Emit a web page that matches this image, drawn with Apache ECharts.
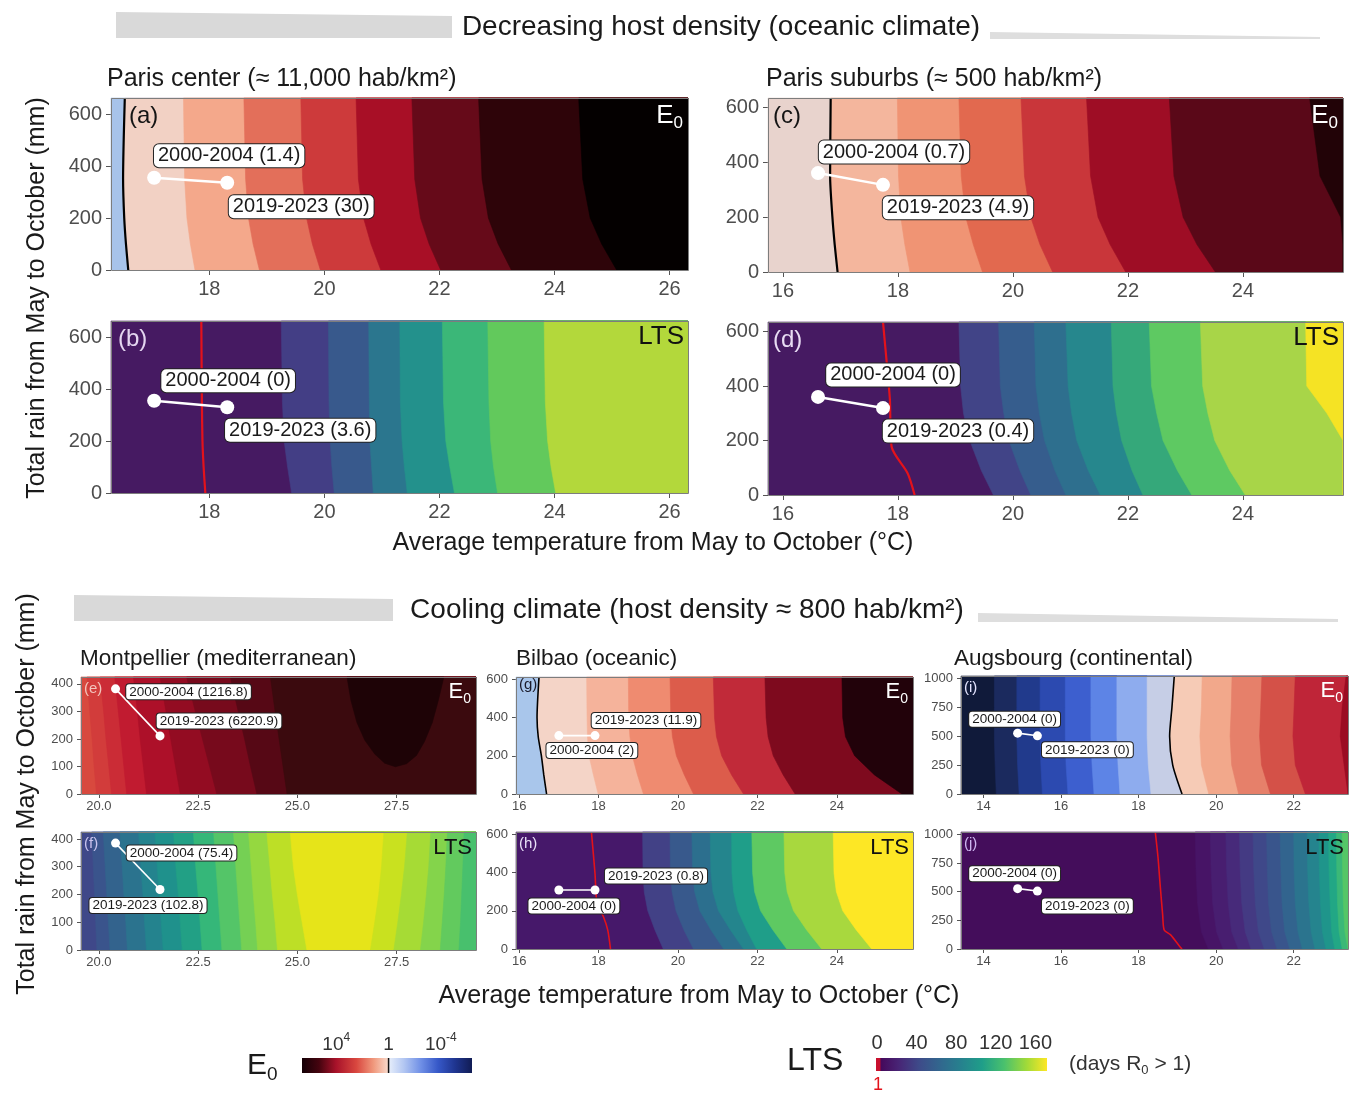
<!DOCTYPE html>
<html><head><meta charset="utf-8">
<script src="https://cdn.jsdelivr.net/npm/echarts@6/dist/echarts.min.js"></script>
<style>html,body{margin:0;padding:0;background:#fff}#c{width:1355px;height:1094px}</style>
</head><body><div id="c"></div>
<script>
// ======================= DATA =======================
const periods = ['2000-2004', '2019-2023'];

// (a) Paris center, E0 : contour boundaries (temperature at each rain level)
const aRain = [0, 100, 200, 350, 662];
const aBounds = [
  [16.59, 16.55, 16.52, 16.50, 16.53],
  [17.75, 17.67, 17.61, 17.57, 17.55],
  [18.87, 18.76, 18.68, 18.63, 18.60],
  [19.93, 19.79, 19.69, 19.62, 19.59],
  [20.98, 20.81, 20.68, 20.59, 20.55],
  [22.02, 21.82, 21.67, 21.57, 21.52],
  [23.25, 23.02, 22.85, 22.74, 22.68],
  [25.08, 24.82, 24.62, 24.49, 24.42]
];
const aPtTemp = [17.04, 18.31], aPtRain = [355, 336], aPtVal = ['1.4', '30'];

// (b) Paris center, LTS
const bRain = [0, 100, 200, 350, 662];
const bBounds = [
  [19.43, 19.36, 19.30, 19.27, 19.25],
  [20.17, 20.13, 20.10, 20.08, 20.07],
  [20.85, 20.82, 20.79, 20.78, 20.77],
  [21.44, 21.39, 21.35, 21.32, 21.31],
  [22.26, 22.18, 22.11, 22.07, 22.05],
  [23.01, 22.94, 22.89, 22.86, 22.84],
  [24.02, 23.94, 23.88, 23.84, 23.82]
];
const bLtsOneTemp = [17.93, 17.90, 17.88, 17.87, 17.86], bLtsOneRain = [0, 100, 200, 350, 662];
const bPtTemp = [17.04, 18.31], bPtRain = [355, 330], bPtVal = ['0', '3.6'];

// (c) Paris suburbs, E0
const cRain = [0, 100, 200, 350, 635];
const cBounds = [
  [16.95, 16.90, 16.86, 16.82, 16.83],
  [18.21, 18.12, 18.05, 18.01, 17.99],
  [19.47, 19.31, 19.18, 19.10, 19.06],
  [20.69, 20.47, 20.31, 20.20, 20.14],
  [21.96, 21.69, 21.48, 21.35, 21.28],
  [23.52, 23.20, 22.96, 22.80, 22.72],
  [26.30, 26.00, 25.70, 25.34, 25.16]
];
const cPtTemp = [16.61, 17.74], cPtRain = [361, 318], cPtVal = ['0.7', '4.9'];

// (d) Paris suburbs, LTS
const dRain = [0, 90, 200, 300, 400, 635];
const dBounds = [
  [19.66, 19.45, 19.25, 19.14, 19.09, 19.06],
  [20.31, 20.12, 19.93, 19.84, 19.78, 19.75],
  [20.92, 20.73, 20.55, 20.46, 20.40, 20.37],
  [21.52, 21.31, 21.11, 21.02, 20.96, 20.92],
  [22.26, 22.07, 21.89, 21.80, 21.74, 21.71],
  [23.11, 22.86, 22.61, 22.50, 22.41, 22.37],
  [24.04, 23.77, 23.51, 23.39, 23.30, 23.26],
  [26.50, 26.20, 25.85, 25.46, 25.11, 25.09]
];
const dLtsOneTemp = [18.29, 18.17, 17.89, 17.86, 17.82, 17.74], dLtsOneRain = [0, 79, 177, 350, 450, 635];
const dPtTemp = [16.61, 17.74], dPtRain = [360, 319], dPtVal = ['0', '0.4'];

// (e) Montpellier, E0
const eRain = [0, 100, 200, 300, 425];
const eBounds = [
  [19.94, 19.88, 19.83, 19.77, 19.70],
  [20.32, 20.25, 20.18, 20.12, 20.03],
  [20.70, 20.63, 20.56, 20.49, 20.40],
  [21.20, 21.12, 21.04, 20.97, 20.87],
  [22.05, 21.93, 21.81, 21.69, 21.54],
  [22.97, 22.79, 22.61, 22.43, 22.21],
  [23.98, 23.82, 23.67, 23.51, 23.31],
  [24.74, 24.64, 24.54, 24.44, 24.32]
];
const eCoreTemp = [26.25, 26.35, 26.50, 26.70, 26.95, 27.20, 27.47, 27.75, 28.00, 28.20, 28.40, 28.55, 28.69];
const eCoreRain = [425, 340, 260, 195, 145, 112, 99, 110, 140, 190, 260, 340, 425];
const ePtTemp = [20.42, 21.54], ePtRain = [382, 211], ePtVal = ['1216.8', '6220.9'];

// (f) Montpellier, LTS
const fRain = [0, 100, 200, 300, 425];
const fBounds = [
  [19.95, 19.92, 19.89, 19.86, 19.82],
  [20.28, 20.24, 20.20, 20.16, 20.11],
  [20.72, 20.68, 20.63, 20.59, 20.53],
  [21.20, 21.15, 21.11, 21.06, 21.00],
  [21.62, 21.57, 21.52, 21.47, 21.41],
  [22.10, 22.05, 22.00, 21.94, 21.88],
  [22.60, 22.55, 22.50, 22.44, 22.38],
  [23.10, 23.05, 23.00, 22.95, 22.89],
  [23.60, 23.55, 23.50, 23.45, 23.39],
  [24.00, 23.95, 23.89, 23.84, 23.77],
  [24.50, 24.44, 24.37, 24.31, 24.23],
  [25.24, 25.12, 25.00, 24.90, 24.82],
  [26.84, 26.95, 27.05, 27.12, 27.18],
  [27.43, 27.53, 27.62, 27.70, 27.77],
  [28.10, 28.18, 28.25, 28.31, 28.36],
  [28.60, 28.65, 28.70, 28.74, 28.78],
  [29.07, 29.11, 29.14, 29.17, 29.20]
];
const fPtTemp = [20.42, 21.54], fPtRain = [385, 218], fPtVal = ['75.4', '102.8'];

// (g) Bilbao, E0
const gRain = [0, 100, 200, 300, 400, 613];
const gBounds = [
  [16.69, 16.62, 16.56, 16.48, 16.45, 16.50],
  [17.99, 17.87, 17.76, 17.72, 17.71, 17.70],
  [19.13, 18.98, 18.85, 18.79, 18.76, 18.75],
  [20.39, 20.16, 19.96, 19.86, 19.82, 19.80],
  [21.65, 21.35, 21.10, 20.97, 20.92, 20.89],
  [22.95, 22.65, 22.40, 22.27, 22.22, 22.19],
  [25.64, 24.95, 24.45, 24.22, 24.15, 24.13]
];
const gPtTemp = [17.00, 17.91], gPtRain = [306, 306], gPtVal = ['2', '11.9'];

// (h) Bilbao, LTS
const hRain = [0, 100, 200, 300, 400, 613];
const hBounds = [
  [19.63, 19.42, 19.24, 19.15, 19.12, 19.11],
  [20.39, 20.15, 19.95, 19.85, 19.81, 19.80],
  [21.15, 20.83, 20.55, 20.42, 20.37, 20.35],
  [21.65, 21.32, 21.02, 20.88, 20.83, 20.81],
  [21.98, 21.73, 21.51, 21.40, 21.36, 21.35],
  [22.74, 22.39, 22.08, 21.93, 21.88, 21.86],
  [23.62, 23.24, 22.91, 22.75, 22.69, 22.67],
  [24.88, 24.49, 24.15, 23.99, 23.93, 23.91]
];
const hLtsOneTemp = [18.30, 18.23, 18.12, 17.96, 17.91, 17.82], hLtsOneRain = [0, 100, 170, 240, 396, 613];
const hPtTemp = [17.00, 17.91], hPtRain = [309, 309], hPtVal = ['0', '0.8'];

// (i) Augsbourg, E0
const iRain = [0, 250, 500, 750, 1020];
const iBounds = [
  [14.33, 14.30, 14.28, 14.28, 14.28],
  [14.92, 14.88, 14.86, 14.86, 14.86],
  [15.52, 15.48, 15.46, 15.46, 15.46],
  [16.18, 16.13, 16.11, 16.11, 16.11],
  [16.85, 16.80, 16.77, 16.77, 16.77],
  [17.52, 17.47, 17.44, 17.44, 17.44],
  [18.32, 18.25, 18.22, 18.22, 18.22],
  [19.12, 18.88, 18.80, 18.86, 18.92],
  [19.81, 19.62, 19.58, 19.62, 19.64],
  [20.58, 20.40, 20.36, 20.39, 20.41],
  [21.40, 21.17, 21.12, 21.15, 21.18],
  [22.30, 22.04, 21.98, 22.01, 22.04],
  [23.80, 23.30, 23.20, 23.25, 23.35]
];
const iPtTemp = [14.88, 15.39], iPtRain = [526, 503], iPtVal = ['0', '0'];

// (j) Augsbourg, LTS
const jRain = [0, 150, 400, 700, 1020];
const jBounds = [
  [19.80, 19.62, 19.52, 19.48, 19.46],
  [20.18, 20.01, 19.91, 19.87, 19.85],
  [20.57, 20.40, 20.31, 20.27, 20.25],
  [20.90, 20.75, 20.66, 20.62, 20.60],
  [21.24, 21.09, 21.01, 20.97, 20.95],
  [21.57, 21.43, 21.35, 21.32, 21.30],
  [21.90, 21.77, 21.70, 21.67, 21.65],
  [22.22, 22.11, 22.04, 22.01, 22.00],
  [22.55, 22.45, 22.39, 22.36, 22.35],
  [22.83, 22.74, 22.69, 22.66, 22.65],
  [23.06, 22.98, 22.94, 22.91, 22.90],
  [23.25, 23.17, 23.13, 23.11, 23.10],
  [23.40, 23.32, 23.28, 23.26, 23.25]
];
const jLtsOneTemp = [19.12, 19.06, 18.82, 18.66, 18.62, 18.56, 18.50, 18.43];
const jLtsOneRain = [0, 22, 125, 166, 300, 540, 800, 1020];
const jPtTemp = [14.88, 15.39], jPtRain = [526, 505], jPtVal = ['0', '0'];

// tick labels
const xTicksA = [18, 20, 22, 24, 26];
const xTicksC = [16, 18, 20, 22, 24];
const xTicksE = [20, 22.5, 25, 27.5];
const xTicksG = [16, 18, 20, 22, 24];
const xTicksI = [14, 16, 18, 20, 22];
const yTicksTop = [0, 200, 400, 600];
const yTicksE = [0, 100, 200, 300, 400];
const yTicksG = [0, 200, 400, 600];
const yTicksI = [0, 250, 500, 750, 1000];
const e0BarTicks = [4, 0, -4];          // log10(E0)
const ltsBarTicks = [0, 40, 80, 120, 160];

// ======================= STYLE =======================
const FONT = "'Liberation Sans', Arial, Helvetica, sans-serif";
const aCol = ['#a7c3ea','#f2d1c4','#f4a88b','#e36f5a','#cd3a3b','#a80f26','#660a19','#2e0409','#040000'];
const bCol = ['#461a62','#433e85','#38598c','#2b768e','#23918c','#3bb778','#62c95c','#b3d83b'];
const cCol = ['#e8d3cd','#f4b69d','#f09474','#e2694f','#c9363a','#9e0d25','#5a0818','#220307'];
const dCol = ['#461a62','#414487','#365d8d','#2e6f8e','#26878d','#35a87a','#5ec962','#a8d548','#f5e324'];
const eCol = ['#d8493e','#d23c3b','#cb2c36','#c11b30','#ad1029','#930c22','#770a1c','#560815','#3b0a0e'];
const eCoreCol = '#1e0306';
const fCol = ['#3f4889','#3a548c','#33638d','#2b738e','#24838e','#1f918c','#22a085','#35b779','#54c568','#75d054','#95d840','#bddf26','#e6e419','#c9e11f','#a6db35','#84d44b','#62ca5e','#48c06d'];
const gCol = ['#a9c6eb','#f4d4c7','#f5b39b','#ef8b70','#dc5c4b','#c12a39','#7e0a1e','#22020a'];
const hCol = ['#46186a','#424186','#38598c','#2c6f8e','#24858d','#1f9e89','#5ec962','#a8d83e','#fde725'];
const iCol = ['#101a3a','#1b2a5e','#213a8c','#2c4ab0','#3d5fcf','#5d84e6','#8eacee','#c6cee6','#f6cbb6','#f2a88b','#e6806a','#d45148','#bf2538','#9b0c22'];
const jCol = ['#440d5b','#471466','#481e70','#472a7a','#443a83','#3f4889','#39558c','#32648e','#2b748e','#25848e','#1f958b','#22a785','#3bb877','#55c667'];
const RED = '#e3121b';

const panels = [
  {box:[111,98,577,172], xr:[16.29,26.32], yr:[0,662], xt:xTicksA, yt:yTicksTop, big:true, rain:aRain, bounds:aBounds, col:aCol,
   line:{t:aBounds[0], r:aRain, c:'#000'}, pt:[aPtTemp,aPtRain,aPtVal], offs:[[75,-22],[74,24]], letter:'(a)', lc:'#141414', lx:18, corner:'E', cc:'#fff'},
  {box:[111,321,577,172], xr:[16.29,26.32], yr:[0,662], xt:xTicksA, yt:yTicksTop, big:true, rain:bRain, bounds:bBounds, col:bCol,
   line:{t:bLtsOneTemp, r:bLtsOneRain, c:RED}, pt:[bPtTemp,bPtRain,bPtVal], offs:[[74,-20],[73,23]], letter:'(b)', lc:'#e4d6f0', lx:7, corner:'LTS', cc:'#111'},
  {box:[768,98,575,174], xr:[15.74,25.74], yr:[0,635], xt:xTicksC, yt:yTicksTop, big:true, rain:cRain, bounds:cBounds, col:cCol,
   line:{t:cBounds[0], r:cRain, c:'#000'}, pt:[cPtTemp,cPtRain,cPtVal], offs:[[76,-21],[75,23]], letter:'(c)', lc:'#141414', corner:'E', cc:'#fff'},
  {box:[768,322,575,173], xr:[15.74,25.74], yr:[0,635], xt:xTicksC, yt:yTicksTop, big:true, rain:dRain, bounds:dBounds, col:dCol,
   line:{t:dLtsOneTemp, r:dLtsOneRain, c:RED}, pt:[dPtTemp,dPtRain,dPtVal], offs:[[75,-22],[75,23]], letter:'(d)', lc:'#e8dcf3', corner:'LTS', cc:'#111'},
  {box:[81,677,395,117], xr:[19.55,29.5], yr:[0,425], xt:xTicksE, yt:yTicksE, big:false, fmt:v=>v.toFixed(1), rain:eRain, bounds:eBounds, col:eCol,
   core:true, pt:[ePtTemp,ePtRain,ePtVal], offs:[[73,3],[59,-15]], letter:'(e)', lc:'#f3c4bc', corner:'E', cc:'#fff'},
  {box:[81,832,395,118], xr:[19.55,29.5], yr:[0,425], xt:xTicksE, yt:yTicksE, big:false, fmt:v=>v.toFixed(1), rain:fRain, bounds:fBounds, col:fCol,
   pt:[fPtTemp,fPtRain,fPtVal], offs:[[66,10],[-12,16]], letter:'(f)', lc:'#c9c4ee', corner:'LTS', cc:'#111'},
  {box:[516,677,397,117], xr:[15.92,25.92], yr:[0,613], xt:xTicksG, yt:yTicksG, big:false, rain:gRain, bounds:gBounds, col:gCol,
   line:{t:gBounds[0], r:gRain, c:'#000'}, pt:[gPtTemp,gPtRain,gPtVal], offs:[[33,15],[51,-15]], letter:'(g)', lc:'#1a1a2a', corner:'E', cc:'#fff', ly:8},
  {box:[516,832,397,117], xr:[15.92,25.92], yr:[0,613], xt:xTicksG, yt:yTicksG, big:false, rain:hRain, bounds:hBounds, col:hCol,
   line:{t:hLtsOneTemp, r:hLtsOneRain, c:RED}, pt:[hPtTemp,hPtRain,hPtVal], offs:[[15,16],[61,-14]], letter:'(h)', lc:'#e8e0f7', corner:'LTS', cc:'#111'},
  {box:[961,676,387,118], xr:[13.42,23.40], yr:[0,1020], xt:xTicksI, yt:yTicksI, big:false, rain:iRain, bounds:iBounds, col:iCol,
   line:{t:iBounds[7], r:iRain, c:'#000'}, pt:[iPtTemp,iPtRain,iPtVal], offs:[[-3,-14],[50,14]], letter:'(i)', lc:'#e4e4ff', corner:'E', cc:'#fff'},
  {box:[961,832,387,117], xr:[13.42,23.40], yr:[0,1020], xt:xTicksI, yt:yTicksI, big:false, rain:jRain, bounds:jBounds, col:jCol,
   line:{t:jLtsOneTemp, r:jLtsOneRain, c:RED}, pt:[jPtTemp,jPtRain,jPtVal], offs:[[-3,-15],[50,15]], letter:'(j)', lc:'#cdb6f0', corner:'LTS', cc:'#111'}
];

function bandRenderer(p) {
  const clampX = v => Math.max(p.xr[0], Math.min(p.xr[1], v));
  return function (params, api) {
    const i = api.value(2);
    const pts = [];
    if (i === 0) {
      pts.push(api.coord([p.xr[0], p.yr[0]]), api.coord([p.xr[0], p.yr[1]]));
    } else {
      const b = p.bounds[i - 1];
      for (let j = 0; j < p.rain.length; j++) pts.push(api.coord([clampX(b[j]), p.rain[j]]));
    }
    pts.push(api.coord([p.xr[1], p.yr[1]]), api.coord([p.xr[1], p.yr[0]]));
    return {type: 'polygon', shape: {points: pts}, style: {fill: p.col[i], stroke: p.col[i], lineWidth: 0.6}};
  };
}

const grids = [], xAxes = [], yAxes = [], series = [], graphics = [];

panels.forEach((p, k) => {
  const [L, T, W, H] = p.box;
  const big = p.big;
  grids.push({left: L, top: T, width: W, height: H});
  const tick = {show: true, length: big ? 5 : 4, lineStyle: {color: '#555', width: 1}};
  xAxes.push({gridIndex: k, type: 'value', min: p.xr[0], max: p.xr[1], axisLine: {show: false}, splitLine: {show: false},
    axisTick: Object.assign({customValues: p.xt}, tick),
    axisLabel: {customValues: p.xt, color: '#4d4d4d', fontSize: big ? 20 : 13, fontFamily: FONT, margin: big ? 9 : 6,
      formatter: p.fmt || (v => String(v))}});
  yAxes.push({gridIndex: k, type: 'value', min: p.yr[0], max: p.yr[1], axisLine: {show: false}, splitLine: {show: false},
    axisTick: Object.assign({customValues: p.yt}, tick),
    axisLabel: {customValues: p.yt, color: '#4d4d4d', fontSize: big ? 20 : 13, fontFamily: FONT, margin: big ? 9 : 8,
      formatter: v => String(v)}});

  series.push({type: 'custom', xAxisIndex: k, yAxisIndex: k, silent: true, z: 1,
    data: p.col.map((c, i) => [p.xr[0], p.yr[0], i]), renderItem: bandRenderer(p)});

  if (p.core) {
    series.push({type: 'custom', xAxisIndex: k, yAxisIndex: k, silent: true, z: 2,
      data: [[eCoreTemp[0], eCoreRain[0]]],
      renderItem: (params, api) => ({type: 'polygon',
        shape: {points: eCoreTemp.map((t, i) => api.coord([t, eCoreRain[i]]))},
        style: {fill: eCoreCol, stroke: eCoreCol, lineWidth: 0.6}})});
  }
  if (p.line) {
    series.push({type: 'line', xAxisIndex: k, yAxisIndex: k, silent: true, z: 3, symbol: 'none', smooth: 0.25,
      data: p.line.t.map((t, i) => [t, p.line.r[i]]),
      lineStyle: {color: p.line.c, width: big ? 2.2 : 1.6}});
  }
  const [pt, pr, pv] = p.pt;
  series.push({type: 'line', xAxisIndex: k, yAxisIndex: k, silent: true, z: 4, symbol: 'none',
    data: pt.map((t, i) => [t, pr[i]]), lineStyle: {color: '#fff', width: big ? 2.5 : 1.6}});
  series.push({type: 'scatter', xAxisIndex: k, yAxisIndex: k, silent: true, z: 5, symbolSize: big ? 14 : 9,
    itemStyle: {color: '#fff', opacity: 1},
    data: pt.map((t, i) => ({value: [t, pr[i]], name: periods[i] + ' (' + pv[i] + ')', label: {offset: p.offs[i]}})),
    label: {show: true, position: 'inside', formatter: '{b}', color: '#1a1a1a', fontFamily: FONT,
      fontSize: big ? 20 : 13.5, lineHeight: big ? 21 : 14, backgroundColor: '#fff', borderColor: '#222', borderWidth: 1,
      borderRadius: big ? 5 : 3, padding: big ? [2, 4, 0, 4] : [1, 3, 0, 3]}});

  // panel border, panel letter, corner label
  graphics.push({type: 'rect', silent: true, z: 100, shape: {x: L + 0.5, y: T + 0.5, width: W, height: H},
    style: {fill: 'transparent', stroke: '#7d7d7d', lineWidth: 1}});
  graphics.push({type: 'text', silent: true, z: 100, x: L + (p.lx || (big ? 5 : 3)), y: T + (p.ly || (big ? 18 : 12)),
    style: {text: p.letter, fill: p.lc, font: (big ? 24 : 15) + 'px ' + FONT, verticalAlign: 'middle', textVerticalAlign: 'middle'}});
  if (p.corner === 'E') {
    const fs = big ? 26 : 22, ss = big ? 17 : 14;
    graphics.push({type: 'text', silent: true, z: 100, x: L + W - 5, y: T + (big ? 18 : 15),
      style: {text: '{e|E}{s|0}', align: 'right', textAlign: 'right', verticalAlign: 'middle', textVerticalAlign: 'middle',
        rich: {e: {fontSize: fs, fontFamily: FONT, fill: p.cc, color: p.cc, lineHeight: fs + 6},
               s: {fontSize: ss, fontFamily: FONT, fill: p.cc, color: p.cc, lineHeight: fs + 6, verticalAlign: 'bottom'}}}});
  } else {
    graphics.push({type: 'text', silent: true, z: 100, x: L + W - 4, y: T + 16,
      style: {text: 'LTS', fill: p.cc, font: (big ? 26 : 22) + 'px ' + FONT, align: 'right', textAlign: 'right', verticalAlign: 'middle', textVerticalAlign: 'middle'}});
  }
});

// ---------- colour bars ----------
const E0_IDX = panels.length, LTS_IDX = panels.length + 1;
grids.push({left: 302, top: 1058, width: 170, height: 15});
grids.push({left: 876, top: 1058, width: 171, height: 16});
xAxes.push({gridIndex: E0_IDX, type: 'value', min: -6.38, max: 6.62, inverse: true, position: 'top', z: 10,
  axisLine: {show: false}, splitLine: {show: false},
  axisTick: {show: true, inside: true, length: 4, customValues: [4, -4], lineStyle: {color: '#fff', width: 1}},
  axisLabel: {customValues: e0BarTicks, margin: 4, color: '#333', fontFamily: FONT,
    formatter: v => v === 0 ? '{b|1}' : '{b|10}{p|' + v + '}',
    rich: {b: {fontSize: 19, fontFamily: FONT, color: '#333', lineHeight: 22, verticalAlign: 'bottom'},
           p: {fontSize: 12, fontFamily: FONT, color: '#333', lineHeight: 22, verticalAlign: 'top'}}}});
yAxes.push({gridIndex: E0_IDX, type: 'value', min: 0, max: 1, show: false});
xAxes.push({gridIndex: LTS_IDX, type: 'value', min: -1, max: 171.8, position: 'top', z: 10,
  axisLine: {show: false}, splitLine: {show: false},
  axisTick: {show: true, inside: true, length: 4, customValues: [40, 80, 120], lineStyle: {color: '#fff', width: 1}},
  axisLabel: {customValues: ltsBarTicks, margin: 5, color: '#333', fontSize: 20, fontFamily: FONT}});
xAxes.push({gridIndex: LTS_IDX, type: 'value', min: -1, max: 171.8, position: 'bottom',
  axisLine: {show: false}, splitLine: {show: false}, axisTick: {show: false},
  axisLabel: {customValues: [1], margin: 5, color: RED, fontSize: 18, fontFamily: FONT}});
yAxes.push({gridIndex: LTS_IDX, type: 'value', min: 0, max: 1, show: false});

const e0Stops = [[0, '#140006'], [0.1, '#45040f'], [0.2, '#a8122a'], [0.32, '#d9473f'], [0.42, '#f0987c'], [0.505, '#f8d8c9'],
  [0.515, '#e4ecfa'], [0.6, '#b2c6f2'], [0.7, '#6f8fe6'], [0.8, '#3658c8'], [0.9, '#1f3590'], [1, '#111c54']];
const ltsStops = [[0, '#440154'], [0.13, '#482475'], [0.25, '#3e4a89'], [0.38, '#31688e'], [0.5, '#26828e'], [0.62, '#1f9e89'],
  [0.75, '#4ac16d'], [0.88, '#a0da39'], [1, '#fde725']];
function barRenderer(lo, hi, stops, solid) {
  return (params, api) => {
    const p0 = api.coord([lo, 0]), p1 = api.coord([hi, 1]);
    const x = Math.min(p0[0], p1[0]), w = Math.abs(p1[0] - p0[0]);
    return {type: 'rect', shape: {x: x, y: p1[1], width: w, height: p0[1] - p1[1]},
      style: {fill: solid || new echarts.graphic.LinearGradient(0, 0, 1, 0, stops.map(s => ({offset: s[0], color: s[1]})))}};
  };
}
series.push({type: 'custom', xAxisIndex: E0_IDX, yAxisIndex: E0_IDX, silent: true, z: 1, data: [[0, 0]],
  renderItem: barRenderer(6.62, -6.38, e0Stops)});
series.push({type: 'line', xAxisIndex: E0_IDX, yAxisIndex: E0_IDX, silent: true, z: 3, symbol: 'none',
  data: [[0, 0], [0, 1]], lineStyle: {color: '#111', width: 1.5}});
series.push({type: 'custom', xAxisIndex: LTS_IDX, yAxisIndex: LTS_IDX, silent: true, z: 1, data: [[0, 0]],
  renderItem: barRenderer(-1, 171.8, ltsStops)});
series.push({type: 'custom', xAxisIndex: LTS_IDX, yAxisIndex: LTS_IDX, silent: true, z: 2, data: [[0, 0]],
  renderItem: barRenderer(-1, 3.5, null, '#c8102e')});

// ---------- titles, wedges, axis titles, legend texts ----------
const txt = (text, x, y, size, opts) => Object.assign({type: 'text', silent: true, z: 100, x: x, y: y,
  style: Object.assign({text: text, fill: '#1a1a1a', font: size + 'px ' + FONT, align: 'left', textAlign: 'left',
    verticalAlign: 'middle', textVerticalAlign: 'middle'}, (opts && opts.style) || {})}, (opts && opts.el) || {});
const poly = (pts, fill) => ({type: 'polygon', silent: true, z: 90, shape: {points: pts}, style: {fill: fill}});

graphics.push(poly([[116, 12], [452, 16], [452, 38], [116, 38]], '#d9d9d9'));
graphics.push(poly([[990, 32], [1320, 37], [1320, 39], [990, 39]], '#dedede'));
graphics.push(poly([[74, 595], [393, 599], [393, 621], [74, 621]], '#d9d9d9'));
graphics.push(poly([[978, 613], [1338, 619], [1338, 622], [978, 622]], '#dedede'));

graphics.push(txt('Decreasing host density (oceanic climate)', 721, 27, 28, {style: {align: 'center', textAlign: 'center'}}));
graphics.push(txt('Cooling climate (host density \u2248 800 hab/km\u00b2)', 687, 610, 28, {style: {align: 'center', textAlign: 'center'}}));
graphics.push(txt('Paris center (\u2248 11,000 hab/km\u00b2)', 107, 79, 25));
graphics.push(txt('Paris suburbs (\u2248 500 hab/km\u00b2)', 766, 79, 25));
graphics.push(txt('Montpellier (mediterranean)', 80, 659, 22.5));
graphics.push(txt('Bilbao (oceanic)', 516, 659, 22.5));
graphics.push(txt('Augsbourg (continental)', 954, 659, 22.5));

const yTitle = 'Total rain from May to October (mm)';
const xTitle = 'Average temperature from May to October (\u00b0C)';
graphics.push(txt(yTitle, 37, 298, 25, {style: {align: 'center', textAlign: 'center'}, el: {rotation: Math.PI / 2}}));
graphics.push(txt(yTitle, 27, 794, 25, {style: {align: 'center', textAlign: 'center'}, el: {rotation: Math.PI / 2}}));
graphics.push(txt(xTitle, 653, 543, 25, {style: {align: 'center', textAlign: 'center'}}));
graphics.push(txt(xTitle, 699, 996, 25, {style: {align: 'center', textAlign: 'center'}}));

graphics.push({type: 'text', silent: true, z: 100, x: 247, y: 1066,
  style: {text: '{e|E}{s|0}', verticalAlign: 'middle', textVerticalAlign: 'middle',
    rich: {e: {fontSize: 30, fontFamily: FONT, fill: '#1a1a1a', lineHeight: 36},
           s: {fontSize: 19, fontFamily: FONT, fill: '#1a1a1a', lineHeight: 36, verticalAlign: 'bottom'}}}});
graphics.push(txt('LTS', 787, 1061, 32));
graphics.push({type: 'text', silent: true, z: 100, x: 1069, y: 1064,
  style: {text: '{t|(days R}{s|0}{t| > 1)}', verticalAlign: 'middle', textVerticalAlign: 'middle',
    rich: {t: {fontSize: 21, fontFamily: FONT, fill: '#333', lineHeight: 26},
           s: {fontSize: 13, fontFamily: FONT, fill: '#333', lineHeight: 26, verticalAlign: 'bottom'}}}});

const chart = echarts.init(document.getElementById('c'), null, {renderer: 'canvas', width: 1355, height: 1094});
chart.setOption({
  animation: false,
  backgroundColor: '#ffffff',
  textStyle: {fontFamily: FONT},
  grid: grids, xAxis: xAxes, yAxis: yAxes, series: series, graphic: graphics
});
</script></body></html>
